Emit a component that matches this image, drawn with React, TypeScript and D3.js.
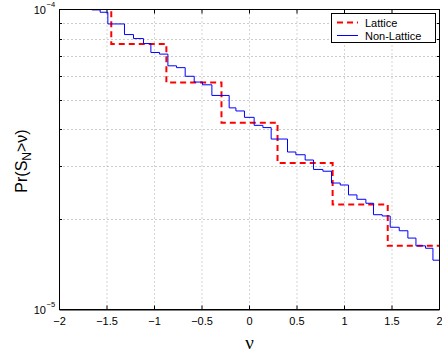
import React from "react";
import * as d3 from "d3";

// Non-lattice staircase: step positions (ν) and level after the step
const nonLatticeX = [-2, -1.66, -1.572, -1.491, -1.316, -1.221, -1.116, -1.038, -0.947, -0.859, -0.768, -0.677, -0.582, -0.495, -0.396, -0.214, -0.143, -0.053, 0.049, 0.141, 0.228, 0.4, 0.488, 0.586, 0.674, 0.773, 0.863, 0.955, 1.042, 1.131, 1.225, 1.305, 1.397, 1.481, 1.576, 1.667, 1.752, 1.853, 1.931, 2];
const nonLatticeY = [1.03e-4, 9.97e-5, 9.79e-5, 8.95e-5, 8.25e-5, 8.0e-5, 7.7e-5, 7.19e-5, 7.1e-5, 6.49e-5, 6.4e-5, 5.99e-5, 5.73e-5, 5.61e-5, 5.17e-5, 4.7e-5, 4.59e-5, 4.37e-5, 4.11e-5, 4.04e-5, 3.7e-5, 3.35e-5, 3.28e-5, 3.15e-5, 2.93e-5, 2.89e-5, 2.64e-5, 2.6e-5, 2.41e-5, 2.33e-5, 2.26e-5, 2.07e-5, 2.05e-5, 1.88e-5, 1.83e-5, 1.73e-5, 1.63e-5, 1.6e-5, 1.46e-5, 1.46e-5];

// Lattice staircase
const latticeX = [-2, -1.455, -0.875, -0.295, 0.295, 0.875, 1.455, 2];
const latticeY = [1.05e-4, 7.68e-5, 5.71e-5, 4.19e-5, 3.08e-5, 2.24e-5, 1.63e-5, 1.63e-5];

const xTicks = [-2, -1.5, -1, -0.5, 0, 0.5, 1, 1.5, 2];
const xTickLabels = ["−2", "−1.5", "−1", "−0.5", "0", "0.5", "1", "1.5", "2"];
const yMinor = [2e-5, 3e-5, 4e-5, 5e-5, 6e-5, 7e-5, 8e-5, 9e-5];
const yMajor = [1e-5, 1e-4];
const yMajorExp = ["−5", "−4"];

const legendNames = ["Lattice", "Non-Lattice"];

const W = 442;
const H = 353;
const L = 59.5, R = 439.5, T = 9.5, B = 309.5;

export default function App() {
  const x = d3.scaleLinear().domain([-2, 2]).range([L, R]);
  const y = d3.scaleLog().domain([1e-5, 1e-4]).range([B, T]);
  const line = d3
    .line<[number, number]>()
    .x((d) => x(d[0]))
    .y((d) => y(d[1]))
    .curve(d3.curveStepAfter);
  const nl: [number, number][] = nonLatticeX.map((v, i) => [v, nonLatticeY[i]]);
  const la: [number, number][] = latticeX.map((v, i) => [v, latticeY[i]]);
  const font = "'Liberation Sans', Arial, Helvetica, sans-serif";

  return (
    <svg width={W} height={H} style={{ position: "absolute", left: 0, top: 0, background: "#fff" }} fontFamily={font}>
      <defs>
        <clipPath id="plotclip">
          <rect x={L} y={T} width={R - L} height={B - T} />
        </clipPath>
      </defs>
      <rect x={0} y={0} width={W} height={H} fill="#fff" />
      {/* grid */}
      {xTicks.slice(1, -1).map((t) => (
        <line key={"gx" + t} x1={x(t)} x2={x(t)} y1={T} y2={B} stroke="#aaa" strokeWidth={1} strokeDasharray="1,3" />
      ))}
      {yMinor.map((t) => (
        <line key={"gy" + t} x1={L} x2={R} y1={Math.round(y(t)) + 0.5} y2={Math.round(y(t)) + 0.5} stroke="#999" strokeWidth={1} strokeDasharray="1,3" />
      ))}
      {/* ticks */}
      {xTicks.map((t) => (
        <g key={"tx" + t}>
          <line x1={x(t)} x2={x(t)} y1={B} y2={B - 4} stroke="#000" />
          <line x1={x(t)} x2={x(t)} y1={T} y2={T + 4} stroke="#000" />
        </g>
      ))}
      {yMinor.map((t) => (
        <g key={"ty" + t}>
          <line x1={L} x2={L + 2.5} y1={Math.round(y(t)) + 0.5} y2={Math.round(y(t)) + 0.5} stroke="#000" />
          <line x1={R} x2={R - 2.5} y1={Math.round(y(t)) + 0.5} y2={Math.round(y(t)) + 0.5} stroke="#000" />
        </g>
      ))}
      {/* data */}
      <g clipPath="url(#plotclip)">
        <path d={line(la) ?? ""} fill="none" stroke="#ff0000" strokeWidth={2} strokeDasharray="6,4" />
        <path d={line(nl) ?? ""} fill="none" stroke="#0000ff" strokeWidth={1} />
      </g>
      {/* frame */}
      <rect x={L} y={T} width={R - L} height={B - T} fill="none" stroke="#000" strokeWidth={1} />
      <line x1={L} x2={R} y1={B + 0.5} y2={B + 0.5} stroke="#000" strokeWidth={1} />
      {/* x tick labels */}
      {xTicks.map((t, i) => (
        <text key={"lx" + t} x={x(t)} y={325} fontSize={11} textAnchor="middle" fill="#000">
          {xTickLabels[i]}
        </text>
      ))}
      {/* y tick labels */}
      {yMajor.map((t) => (
        <text key={"ly" + t} x={46} y={y(t) + 4} fontSize={11} textAnchor="end" fill="#000">
          10
        </text>
      ))}
      {yMajor.map((t, i) => (
        <text key={"le" + t} x={46.5} y={y(t) - 3} fontSize={7.5} textAnchor="start" fill="#000">
          {yMajorExp[i]}
        </text>
      ))}
      {/* axis labels */}
      <text x={249.5} y={349} fontSize={19} textAnchor="middle" fontFamily="'Liberation Serif', 'Times New Roman', serif" fill="#000">
        ν
      </text>
      <g transform="translate(26.5,161) rotate(-90)">
        <text x={0} y={0} fontSize={16} textAnchor="middle" fill="#000">
          Pr(S<tspan fontSize={12} dy={4}>N</tspan><tspan dy={-4}>&gt;ν)</tspan>
        </text>
      </g>
      {/* legend */}
      <g>
        <rect x={331.5} y={13.5} width={104} height={29} fill="#fff" stroke="#000" strokeWidth={1} />
        <line x1={337} x2={358} y1={22.5} y2={22.5} stroke="#ff0000" strokeWidth={2} strokeDasharray="6,4" />
        <line x1={337} x2={358} y1={35.5} y2={35.5} stroke="#0000ff" strokeWidth={1} />
        <text x={365} y={26.5} fontSize={11} fill="#000">{legendNames[0]}</text>
        <text x={365} y={39.5} fontSize={11} fill="#000">{legendNames[1]}</text>
      </g>
    </svg>
  );
}
